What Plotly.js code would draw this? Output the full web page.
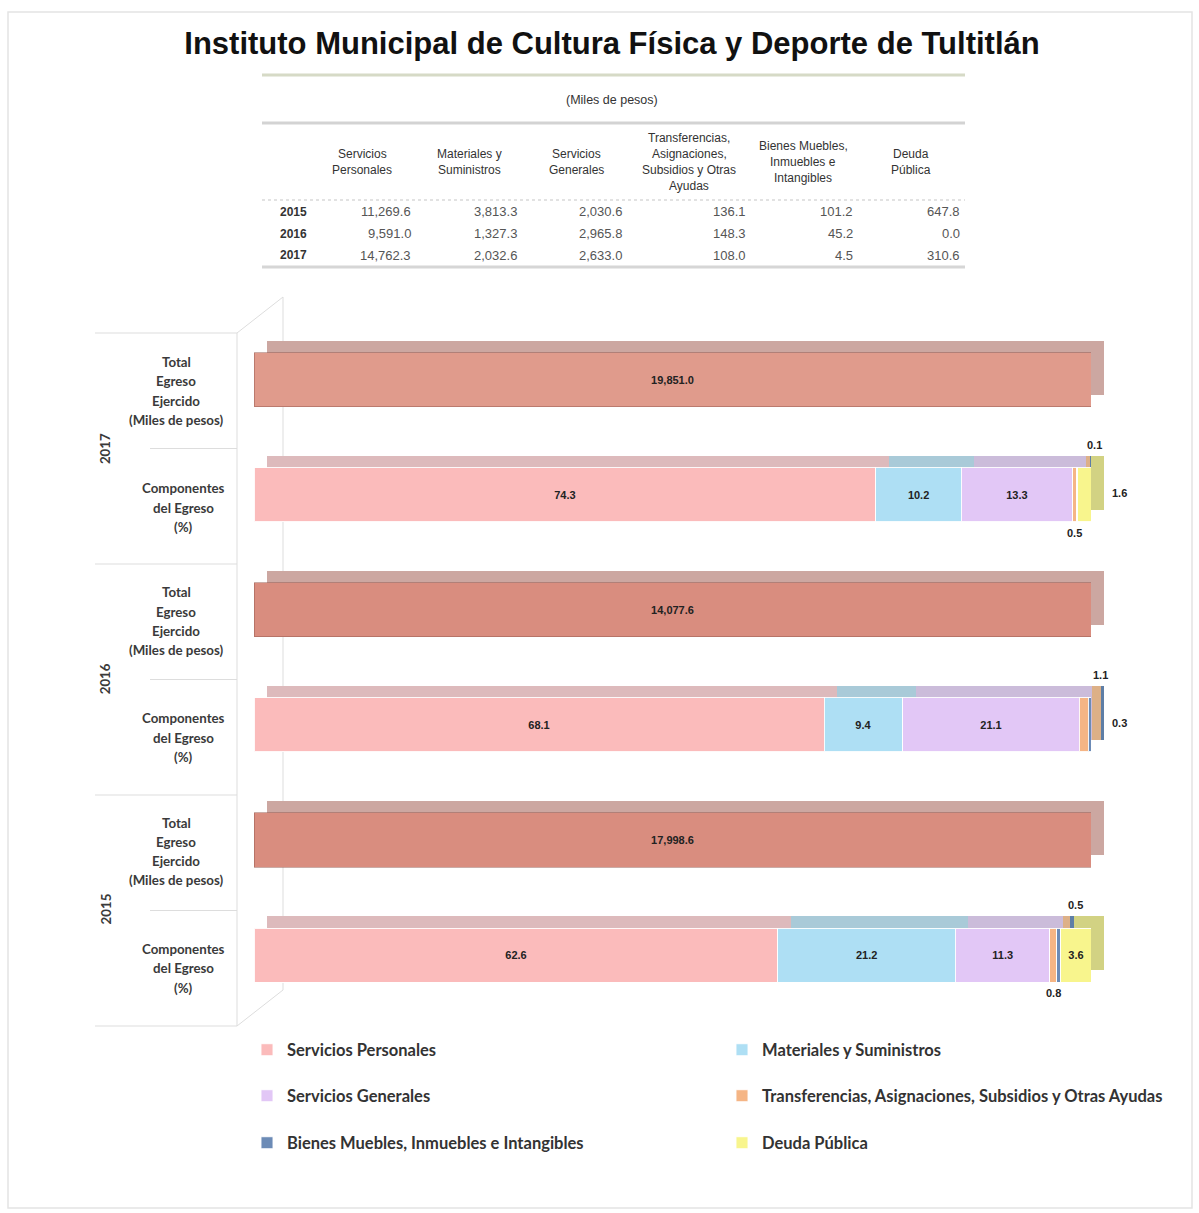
<!DOCTYPE html>
<html>
<head>
<meta charset="utf-8">
<script src="https://cdn.plot.ly/plotly-3.0.1.min.js"></script>
<style>
  body { margin: 0; background: #fff; }
  #grafica { width: 1199px; height: 1213px; }
</style>
</head>
<body>
<div id="grafica"></div>
<script>
const W = 1199, H = 1213;
const px = x => x / W;
const py = y => 1 - y / H;

// rubros del egreso
const rubros = ['Servicios Personales', 'Materiales y Suministros', 'Servicios Generales',
  'Transferencias, Asignaciones, Subsidios y Otras Ayudas',
  'Bienes Muebles, Inmuebles e Intangibles', 'Deuda Pública'];
const encabezados = [
  ['Servicios', 'Personales'],
  ['Materiales y', 'Suministros'],
  ['Servicios', 'Generales'],
  ['Transferencias,', 'Asignaciones,', 'Subsidios y Otras', 'Ayudas'],
  ['Bienes Muebles,', 'Inmuebles e', 'Intangibles'],
  ['Deuda', 'Pública']
];

const anios = ['2015', '2016', '2017'];
// tabla (miles de pesos)
const miles2015 = [11269.6, 3813.3, 2030.6, 136.1, 101.2, 647.8];
const miles2016 = [9591.0, 1327.3, 2965.8, 148.3, 45.2, 0.0];
const miles2017 = [14762.3, 2032.6, 2633.0, 108.0, 4.5, 310.6];
// total egreso ejercido
const totalEgreso = [17998.6, 14077.6, 19851.0];
// componentes del egreso (%)
const pct2015 = [62.6, 21.2, 11.3, 0.8, 0.5, 3.6];
const pct2016 = [68.1, 9.4, 21.1, 1.1, 0.3, 0.0];
const pct2017 = [74.3, 10.2, 13.3, 0.5, 0.1, 1.6];

const tabla = [miles2015, miles2016, miles2017];
const pcts = [pct2015, pct2016, pct2017];

const colFrente = ['#FBBBBB', '#AEDFF4', '#E2C7F6', '#F5B585', '#6C8BB6', '#F8F58D'];
const colFondo = ['#DDBABC', '#A9CAD8', '#CBBCDA', '#DDB087', '#5E7EA6', '#D2D283'];
const colTotal = ['#D98D7F', '#D98D7F', '#E09B8C'], colTotalFondo = '#CCA7A1';

const filasTotal = anios.map(a => a + ' Total');
const filasComp = anios.map(a => a + ' Componentes');
const orden = ['2015 Componentes', '2015 Total', '2016 Componentes', '2016 Total', '2017 Componentes', '2017 Total'];

const fmt = v => v.toLocaleString('en-US', { minimumFractionDigits: 1, maximumFractionDigits: 1 });
const fuenteBarra = { family: 'Liberation Sans, Arial', size: 11, color: '#222', weight: 'bold' };

const traces = [];
// copia desplazada (caras superior y lateral)
traces.push({
  type: 'bar', orientation: 'h', x: totalEgreso, y: filasTotal, xaxis: 'x', yaxis: 'y',
  marker: { color: colTotalFondo }, showlegend: false, hoverinfo: 'skip', textposition: 'none'
});
rubros.forEach((r, i) => {
  traces.push({
    type: 'bar', orientation: 'h', x: pcts.map(p => p[i]), y: filasComp, xaxis: 'x', yaxis: 'y',
    marker: { color: colFondo[i] }, showlegend: false, hoverinfo: 'skip', textposition: 'none'
  });
});
// cara frontal
traces.push({
  type: 'bar', orientation: 'h', x: totalEgreso, y: filasTotal, xaxis: 'x2', yaxis: 'y2',
  name: 'Total', showlegend: false,
  marker: { color: colTotal, line: { color: 'rgba(150,90,80,0.5)', width: 1 } },
  text: totalEgreso.map(fmt), textposition: 'inside', insidetextanchor: 'middle',
  textfont: fuenteBarra
});
const leyendas = ['legend', 'legend2', 'legend3', 'legend4', 'legend5', 'legend6'];
rubros.forEach((r, i) => {
  traces.push({
    type: 'bar', orientation: 'h', name: r, x: pcts.map(p => p[i]), y: filasComp,
    xaxis: 'x2', yaxis: 'y2', legend: leyendas[i],
    marker: { color: colFrente[i], line: { color: 'rgba(255,255,255,0.9)', width: 1 } },
    text: pcts.map(p => fmt(p[i])), textposition: 'inside', insidetextanchor: 'middle',
    textfont: fuenteBarra
  });
});

const annotations = [];
const gris = '#333';
const nota = (x, y, text, font, extra) => Object.assign({ xref: 'paper', yref: 'paper', x: px(x), y: py(y),
  xanchor: 'center', yanchor: 'middle', text: text, showarrow: false, font: font }, extra || {});
// tabla
annotations.push(nota(612, 100, '(Miles de pesos)', { family: 'Liberation Sans, Arial', size: 12.5, color: gris }));
const colCentro = [362, 469, 576, 689, 803, 911];
const colDerecha = [413, 519, 624, 748, 855, 962];
encabezados.forEach((lineas, c) => {
  lineas.forEach((t, k) => {
    annotations.push(nota(colCentro[c], 162 + (k - (lineas.length - 1) / 2) * 16, t,
      { family: 'Liberation Sans, Arial', size: 12, color: gris }));
  });
});
const filaY = [212, 234, 255];
anios.forEach((a, f) => {
  annotations.push(nota(278, filaY[f], a, { family: 'Liberation Sans, Arial', size: 12, color: gris, weight: 'bold' },
    { xanchor: 'left' }));
  tabla[f].forEach((v, c) => {
    annotations.push(nota(colDerecha[c], filaY[f], fmt(v), { family: 'Liberation Sans, Arial', size: 13, color: '#555' },
      { xanchor: 'right' }));
  });
});

// etiquetas del panel izquierdo
const etqTotal = ['Total', 'Egreso', 'Ejercido', '(Miles de pesos)'];
const etqComp = ['Componentes', 'del Egreso', '(%)'];
const fuenteEtq = { family: 'Lato', size: 13.3, color: '#3a3a3a', weight: 'bold' };
anios.forEach((a, f) => {
  etqTotal.forEach((t, k) => {
    annotations.push({ xref: 'paper', yref: 'y2', x: px(176), xanchor: 'center', y: filasTotal[f],
      yshift: -(11.5 + (k - 1.5) * 19.3), text: t, showarrow: false, font: fuenteEtq });
  });
  etqComp.forEach((t, k) => {
    annotations.push({ xref: 'paper', yref: 'y2', x: px(183), xanchor: 'center', y: filasComp[f],
      yshift: -(13 + (k - 1) * 19.5), text: t, showarrow: false, font: fuenteEtq });
  });
  annotations.push({ xref: 'paper', yref: 'y2', x: px(105), xanchor: 'center', y: orden.indexOf(filasTotal[f]) - 0.5,
    yshift: -12, text: a, textangle: -90, showarrow: false, font: fuenteEtq });
});

// etiquetas fuera de la barra para valores pequeños
const fuera = [
  { f: 2, i: 3, pos: 'abajo' }, { f: 2, i: 4, pos: 'arriba' }, { f: 2, i: 5, pos: 'derecha' },
  { f: 1, i: 3, pos: 'arriba' }, { f: 1, i: 4, pos: 'derecha' },
  { f: 0, i: 3, pos: 'abajo' }, { f: 0, i: 4, pos: 'arriba' }
];
fuera.forEach(o => {
  const p = pcts[o.f];
  const inicio = p.slice(0, o.i).reduce((s, v) => s + v, 0);
  const a = { xref: 'x2', yref: 'y2', y: filasComp[o.f], text: fmt(p[o.i]), showarrow: false, font: fuenteBarra };
  if (o.pos === 'arriba') { a.x = inicio + p[o.i] / 2; a.xshift = 17; a.yshift = 50; }
  else if (o.pos === 'abajo') { a.x = inicio + p[o.i] / 2; a.yshift = -38; }
  else { a.x = inicio + p[o.i]; a.xshift = 28; a.yshift = 2; }
  annotations.push(a);
});

// líneas decorativas
const linea = (x0, y0, x1, y1, color, width, dash) => ({
  type: 'line', xref: 'paper', yref: 'paper', x0: px(x0), y0: py(y0), x1: px(x1), y1: py(y1),
  line: { color: color, width: width, dash: dash || 'solid' }, layer: 'below'
});
const shapes = [
  { type: 'rect', xref: 'paper', yref: 'paper', x0: px(8), y0: py(12), x1: px(1192), y1: py(1208),
    line: { color: '#E4E4E4', width: 1.5 }, layer: 'below' },
  linea(262, 75, 965, 75, '#D6DAC6', 3),
  linea(262, 123, 965, 123, '#D3D3D3', 3),
  linea(262, 200, 965, 200, '#E2E2E2', 2, 'dot'),
  linea(262, 267, 965, 267, '#D6D6D6', 3),
  linea(237, 333, 237, 1026, '#DDDDDD', 1),
  linea(237, 333, 283, 297, '#DDDDDD', 1),
  linea(283, 297, 283, 990, '#DDDDDD', 1),
  linea(237, 1026, 283, 990, '#DDDDDD', 1)
];
[333, 564, 795, 1026].forEach(y => shapes.push(linea(95, y, 237, y, '#DDDDDD', 1)));
[448.5, 679.5, 910.5].forEach(y => shapes.push(linea(150, y, 237, y, '#DDDDDD', 1)));

const fuenteLeyenda = { family: 'Lato', size: 16.5, color: '#333', weight: 'bold' };
const leyenda = (x, y) => ({
  x: px(x), xanchor: 'left', y: py(y), yanchor: 'middle', bgcolor: 'rgba(0,0,0,0)',
  font: fuenteLeyenda, itemclick: false, itemdoubleclick: false
});

const layout = {
  width: W, height: H,
  margin: { l: 0, r: 0, t: 0, b: 0 },
  paper_bgcolor: '#fff', plot_bgcolor: 'rgba(0,0,0,0)',
  title: { text: 'Instituto Municipal de Cultura Física y Deporte de Tultitlán',
    x: px(612), xanchor: 'center', y: py(43), yanchor: 'middle',
    font: { family: 'Liberation Sans, Arial', size: 31, color: '#111', weight: 'bold' } },
  barmode: 'stack', barnorm: 'percent', bargap: 0.53,
  uniformtext: { mode: 'hide', minsize: 10 },
  xaxis: { domain: [px(267), px(1104)], range: [0, 100], visible: false, fixedrange: true },
  yaxis: { domain: [py(1000.6), py(310)], type: 'category', categoryorder: 'array', categoryarray: orden,
    range: [-0.5, 5.5], visible: false, fixedrange: true },
  xaxis2: { domain: [px(254), px(1091)], range: [0, 100], anchor: 'y2', visible: false, fixedrange: true },
  yaxis2: { domain: [py(1012.6), py(322)], anchor: 'x2', type: 'category', categoryorder: 'array',
    categoryarray: orden, range: [-0.5, 5.5], visible: false, fixedrange: true },
  legend: leyenda(247, 1050),
  legend2: leyenda(722, 1050),
  legend3: leyenda(247, 1096),
  legend4: leyenda(722, 1096),
  legend5: leyenda(247, 1143),
  legend6: leyenda(722, 1143),
  annotations: annotations,
  shapes: shapes
};

Plotly.newPlot('grafica', traces, layout, { displayModeBar: false, staticPlot: true });
</script>
</body>
</html>
